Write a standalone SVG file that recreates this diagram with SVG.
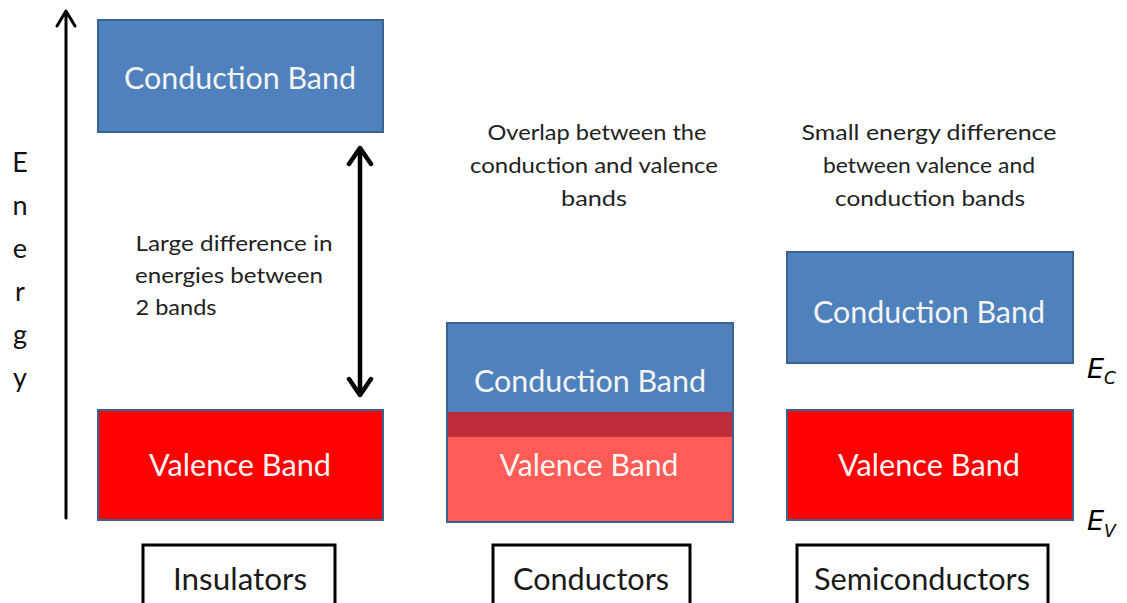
<svg xmlns="http://www.w3.org/2000/svg" width="1127" height="603" viewBox="0 0 1127 603">
<defs>
<style>
.band{stroke:#3a6392;stroke-width:2}
.cb{fill:#4f81bd}
.vb{fill:#ff0000}
.bt{font-family:Lato,"Open Sans",sans-serif;font-size:31px;fill:#f4f4f4;text-anchor:middle}
.note{font-family:Lato,"Open Sans",sans-serif;font-size:21px;fill:#222;text-anchor:middle}
.lbl{font-family:Lato,"Open Sans",sans-serif;font-size:31px;fill:#1a1a1a;text-anchor:middle}
.lblbox{fill:#fff;stroke:#000;stroke-width:3}
.en{font-family:Lato,"Open Sans",sans-serif;font-size:27px;fill:#111;text-anchor:middle}
.ev{font-family:"DejaVu Sans",sans-serif;font-style:italic;fill:#000}
.arr{stroke:#000;fill:none;stroke-linecap:round;stroke-linejoin:round}
</style>
</defs>
<rect width="1127" height="603" fill="#fff"/>

<g id="connectors">
<path class="arr" stroke-width="3" d="M66 518 V11 M57 26 L66 11 L75 26"/>
<path class="arr" stroke-width="4.5" d="M360 148 V395 M349 164 L360 148 L371 164 M349 379 L360 395 L371 379"/>
</g>

<g id="energy-axis-label">
<text class="en" x="20" y="172">E</text>
<text class="en" x="20" y="215">n</text>
<text class="en" x="20" y="258">e</text>
<text class="en" x="20" y="301">r</text>
<text class="en" x="20" y="344">g</text>
<text class="en" x="20" y="387">y</text>
</g>

<g id="insulator-conduction">
<rect class="band cb" x="98" y="20" width="285" height="112"/>
<text class="bt" x="240" y="89" textLength="232" lengthAdjust="spacingAndGlyphs">Conduction Band</text>
</g>
<g id="insulator-valence">
<rect class="band vb" x="98" y="410" width="285" height="110"/>
<text class="bt" x="240" y="476" textLength="182" lengthAdjust="spacingAndGlyphs">Valence Band</text>
</g>
<g id="insulator-note">
<text class="note" x="234" y="251" textLength="197" lengthAdjust="spacingAndGlyphs">Large difference in</text>
<text class="note" x="229" y="283" textLength="188" lengthAdjust="spacingAndGlyphs">energies between</text>
<text class="note" x="176" y="315" textLength="81" lengthAdjust="spacingAndGlyphs">2 bands</text>
</g>

<g id="conductor-bands">
<rect x="447" y="323" width="286" height="89" class="cb"/>
<rect x="447" y="412" width="286" height="25" fill="#be2b3b"/>
<rect x="447" y="437" width="286" height="85" fill="#ff5b57"/>
<rect x="447" y="323" width="286" height="199" fill="none" class="band"/>
<text class="bt" x="590" y="392" textLength="232" lengthAdjust="spacingAndGlyphs">Conduction Band</text>
<text class="bt" x="589" y="476" textLength="179" lengthAdjust="spacingAndGlyphs">Valence Band</text>
</g>
<g id="conductor-note">
<text class="note" x="597" y="140" textLength="219" lengthAdjust="spacingAndGlyphs">Overlap between the</text>
<text class="note" x="594" y="173" textLength="248" lengthAdjust="spacingAndGlyphs">conduction and  valence</text>
<text class="note" x="594" y="206" textLength="66" lengthAdjust="spacingAndGlyphs">bands</text>
</g>

<g id="semiconductor-conduction">
<rect class="band cb" x="787" y="252" width="286" height="111"/>
<text class="bt" x="929" y="323" textLength="232" lengthAdjust="spacingAndGlyphs">Conduction Band</text>
</g>
<g id="semiconductor-valence">
<rect class="band vb" x="787" y="410" width="286" height="110"/>
<text class="bt" x="929" y="476" textLength="182" lengthAdjust="spacingAndGlyphs">Valence Band</text>
</g>
<g id="semiconductor-note">
<text class="note" x="929" y="140" textLength="255" lengthAdjust="spacingAndGlyphs">Small energy difference</text>
<text class="note" x="929" y="173" textLength="212" lengthAdjust="spacingAndGlyphs">between valence and</text>
<text class="note" x="930" y="206" textLength="190" lengthAdjust="spacingAndGlyphs">conduction bands</text>
</g>

<g id="ec-label">
<text class="ev" x="1087" y="378" font-size="27">E<tspan font-size="17" dy="6">C</tspan></text>
</g>
<g id="ev-label">
<text class="ev" x="1087" y="530" font-size="27">E<tspan font-size="17" dy="7">V</tspan></text>
</g>

<g id="insulators-label">
<rect class="lblbox" x="143" y="545" width="192" height="70"/>
<text class="lbl" x="240" y="590" textLength="134" lengthAdjust="spacingAndGlyphs">Insulators</text>
</g>
<g id="conductors-label">
<rect class="lblbox" x="493" y="545" width="197" height="70"/>
<text class="lbl" x="591" y="590" textLength="156" lengthAdjust="spacingAndGlyphs">Conductors</text>
</g>
<g id="semiconductors-label">
<rect class="lblbox" x="797" y="545" width="251" height="70"/>
<text class="lbl" x="922" y="590" textLength="216" lengthAdjust="spacingAndGlyphs">Semiconductors</text>
</g>
</svg>
